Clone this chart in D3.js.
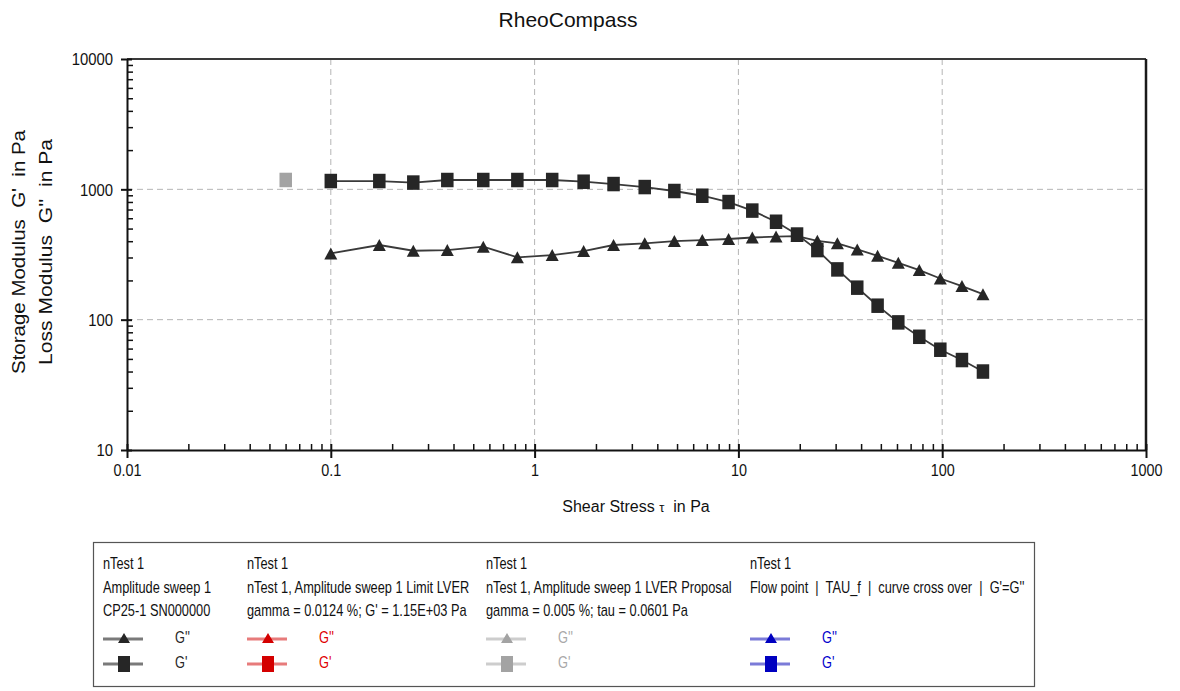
<!DOCTYPE html>
<html>
<head>
<meta charset="utf-8">
<title>RheoCompass</title>
<script src="https://cdn.jsdelivr.net/npm/d3@7"></script>
<style>
  html, body { margin: 0; padding: 0; background: #ffffff; }
  svg { display: block; font-family: "Liberation Sans", Arial, sans-serif; }
</style>
</head>
<body>
<svg id="chart" width="1180" height="691"></svg>
<script>
// Amplitude sweep 1: shear stress (Pa) and moduli (Pa)
const shearStress = [0.1, 0.173, 0.254, 0.373, 0.56, 0.823, 1.22, 1.74, 2.44, 3.47, 4.85, 6.65, 8.95,
  11.7, 15.3, 19.4, 24.4, 30.6, 38.3, 48.2, 60.9, 77.2, 97.9, 125, 158.5];
const storageModulus = [1158, 1158, 1127, 1179, 1179, 1179, 1179, 1144, 1098, 1041, 971, 893, 799,
  687, 564, 450, 342, 243, 176, 128, 95.3, 73.9, 58.8, 49.0, 40.0];
const lossModulus = [322, 374, 338, 342, 363, 301, 313, 336, 374, 385, 401, 408, 416,
  427, 434, 438, 403, 385, 346, 309, 273, 240, 207, 181, 157];

// LVER proposal point (tau = 0.0601 Pa)
const proposalStress = [0.0601];
const proposalStorage = [1180];

// Axis ticks
const xTickValues = [0.01, 0.1, 1, 10, 100, 1000];
const xTickLabels = ["0.01", "0.1", "1", "10", "100", "1000"];
const yTickValues = [10, 100, 1000, 10000];
const yTickLabels = ["10", "100", "1000", "10000"];

// Legend texts
const legendHeaders = [
  ["nTest 1", "Amplitude sweep 1", "CP25-1 SN000000"],
  ["nTest 1", "nTest 1, Amplitude sweep 1 Limit LVER", "gamma = 0.0124 %; G' = 1.15E+03 Pa"],
  ["nTest 1", "nTest 1, Amplitude sweep 1 LVER Proposal", "gamma = 0.005 %; tau = 0.0601 Pa"],
  ["nTest 1", "Flow point  |  TAU_f  |  curve cross over  |  G'=G''"]
];
const legendSeriesNames = ["G''", "G'"];
const legendColors = [
  { line: "#7a7a7a", mark: "#262626", text: "#262626" },
  { line: "#e77b7b", mark: "#d40000", text: "#e00000" },
  { line: "#cdcdcd", mark: "#a3a3a3", text: "#a8a8a8" },
  { line: "#7b7bd8", mark: "#0000c0", text: "#0000cc" }
];

const svg = d3.select("#chart");

const x = d3.scaleLog().domain([0.01, 1000]).range([127, 1146]);
const y = d3.scaleLog().domain([10, 10000]).range([450, 59]);

// Title
svg.append("text")
  .attr("x", 568).attr("y", 27)
  .attr("text-anchor", "middle")
  .attr("font-size", 21)
  .attr("fill", "#111")
  .text("RheoCompass");

// Grid lines (dashed) at the inner decades
const grid = svg.append("g").attr("stroke", "#b5b5b5").attr("stroke-width", 1).attr("stroke-dasharray", "6,4");
grid.selectAll("line.gx")
  .data(xTickValues.slice(1, -1))
  .join("line")
  .attr("x1", d => x(d)).attr("x2", d => x(d))
  .attr("y1", y(10000)).attr("y2", y(10));
grid.selectAll("line.gy")
  .data(yTickValues.slice(1, -1))
  .join("line")
  .attr("x1", x(0.01)).attr("x2", x(1000))
  .attr("y1", d => y(d)).attr("y2", d => y(d));

// Frame top and right
svg.append("line")
  .attr("x1", x(0.01)).attr("x2", x(1000))
  .attr("y1", y(10000)).attr("y2", y(10000))
  .attr("stroke", "#3a3a3a").attr("stroke-width", 2);
svg.append("line")
  .attr("x1", x(1000)).attr("x2", x(1000))
  .attr("y1", y(10000)).attr("y2", y(10))
  .attr("stroke", "#1a1a1a").attr("stroke-width", 2.5);

// Minor ticks
const xMinor = x.ticks().filter(d => !xTickValues.some(v => Math.abs(v - d) / v < 1e-9));
const yMinor = y.ticks().filter(d => !yTickValues.some(v => Math.abs(v - d) / v < 1e-9));

const gxMinor = svg.append("g").attr("transform", `translate(0,${y(10)})`)
  .call(d3.axisTop(x).tickValues(xMinor).tickSize(6).tickFormat(""));
gxMinor.select(".domain").remove();
gxMinor.selectAll(".tick line").attr("stroke", "#111").attr("stroke-width", 1.5);

const gyMinor = svg.append("g").attr("transform", `translate(${x(0.01)},0)`)
  .call(d3.axisRight(y).tickValues(yMinor).tickSize(6).tickFormat(""));
gyMinor.select(".domain").remove();
gyMinor.selectAll(".tick line").attr("stroke", "#111").attr("stroke-width", 1.5);

// X axis
const gx = svg.append("g").attr("transform", `translate(0,${y(10)})`)
  .call(d3.axisBottom(x).tickValues(xTickValues).tickFormat((d, i) => xTickLabels[i]).tickSize(8).tickSizeOuter(0));
gx.select(".domain").attr("stroke", "#111").attr("stroke-width", 2);
gx.selectAll(".tick line").attr("y1", -6).attr("stroke", "#111").attr("stroke-width", 2);
gx.selectAll(".tick text")
  .attr("y", 0).attr("dy", null)
  .attr("transform", "translate(0,26) scale(0.9,1)")
  .attr("font-size", 16).attr("font-family", "Liberation Sans, Arial, sans-serif")
  .attr("fill", "#111");

// Y axis
const gy = svg.append("g").attr("transform", `translate(${x(0.01)},0)`)
  .call(d3.axisLeft(y).tickValues(yTickValues).tickFormat((d, i) => yTickLabels[i]).tickSize(6).tickSizeOuter(0));
gy.select(".domain").attr("stroke", "#111").attr("stroke-width", 2);
gy.selectAll(".tick line").attr("x2", 5).attr("x1", -6).attr("stroke", "#111").attr("stroke-width", 2);
gy.selectAll(".tick text")
  .attr("x", 0).attr("dy", "0.36em")
  .attr("transform", "translate(-14,0) scale(0.93,1)")
  .attr("font-size", 16).attr("font-family", "Liberation Sans, Arial, sans-serif")
  .attr("fill", "#111");

// Axis titles
const xTitle = svg.append("text")
  .attr("x", 636).attr("y", 512)
  .attr("text-anchor", "middle")
  .attr("font-size", 16)
  .attr("fill", "#111")
  .style("white-space", "pre");
xTitle.append("tspan").text("Shear Stress ");
xTitle.append("tspan").attr("font-size", 13).text("\u03C4");
xTitle.append("tspan").text("  in Pa");

svg.append("text")
  .attr("transform", "translate(25,252) rotate(-90)")
  .attr("text-anchor", "middle")
  .attr("font-size", 18.5)
  .attr("fill", "#111")
  .attr("textLength", 244).attr("lengthAdjust", "spacingAndGlyphs")
  .style("white-space", "pre")
  .text("Storage Modulus  G'  in Pa");
svg.append("text")
  .attr("transform", "translate(52,252) rotate(-90)")
  .attr("text-anchor", "middle")
  .attr("font-size", 18.5)
  .attr("fill", "#111")
  .attr("textLength", 226).attr("lengthAdjust", "spacingAndGlyphs")
  .style("white-space", "pre")
  .text("Loss Modulus  G''  in Pa");

// Marker shapes
const triPath = (w, h) => `M0,${-h / 2}L${w / 2},${h / 2}L${-w / 2},${h / 2}Z`;

const lossPts = shearStress.map((s, i) => ({ s, v: lossModulus[i] }));
const storagePts = shearStress.map((s, i) => ({ s, v: storageModulus[i] }));
const line = d3.line().x(d => x(d.s)).y(d => y(d.v));

// G'' series
svg.append("path").datum(lossPts)
  .attr("d", line).attr("fill", "none")
  .attr("stroke", "#3a3a3a").attr("stroke-width", 1.8);
svg.append("g").selectAll("path")
  .data(lossPts).join("path")
  .attr("transform", d => `translate(${x(d.s)},${y(d.v)})`)
  .attr("d", triPath(13, 12))
  .attr("fill", "#262626");

// G' series
svg.append("path").datum(storagePts)
  .attr("d", line).attr("fill", "none")
  .attr("stroke", "#3a3a3a").attr("stroke-width", 1.8);
svg.append("g").selectAll("rect")
  .data(storagePts).join("rect")
  .attr("x", d => x(d.s) - 6.25).attr("y", d => y(d.v) - 7.25)
  .attr("width", 12.5).attr("height", 14.5)
  .attr("fill", "#262626");

// LVER proposal marker
svg.append("g").selectAll("rect")
  .data(proposalStress.map((s, i) => ({ s, v: proposalStorage[i] })))
  .join("rect")
  .attr("x", d => x(d.s) - 6.25).attr("y", d => y(d.v) - 7.25)
  .attr("width", 12.5).attr("height", 14.5)
  .attr("fill", "#a3a3a3");

// Legend
const legend = svg.append("g");
legend.append("rect")
  .attr("x", 93.5).attr("y", 542.5)
  .attr("width", 941).attr("height", 144)
  .attr("fill", "#fff").attr("stroke", "#555").attr("stroke-width", 1.2);

const colX = [103, 247, 486, 750];
const rowY = [569, 593, 616];
const markRowY = [639, 664];
const narrow = (g, tx, ty, txt, color) =>
  g.append("text")
    .attr("transform", `translate(${tx},${ty}) scale(0.8,1)`)
    .attr("font-size", 16)
    .attr("fill", color)
    .style("white-space", "pre")
    .text(txt);

legendHeaders.forEach((lines, c) => {
  const col = legend.append("g");
  lines.forEach((t, r) => narrow(col, colX[c], rowY[r], t, "#111"));
  const cols = legendColors[c];
  legendSeriesNames.forEach((name, k) => {
    const yy = markRowY[k];
    col.append("line")
      .attr("x1", colX[c]).attr("x2", colX[c] + 40)
      .attr("y1", yy).attr("y2", yy)
      .attr("stroke", cols.line).attr("stroke-width", 3);
    if (k === 0) {
      col.append("path")
        .attr("transform", `translate(${colX[c] + 21},${yy - 1})`)
        .attr("d", triPath(12, 10))
        .attr("fill", cols.mark);
    } else {
      col.append("rect")
        .attr("x", colX[c] + 21 - 6).attr("y", yy - 8)
        .attr("width", 12).attr("height", 16)
        .attr("fill", cols.mark);
    }
    narrow(col, colX[c] + 72, yy + 4, name, cols.text);
  });
});
</script>
</body>
</html>
